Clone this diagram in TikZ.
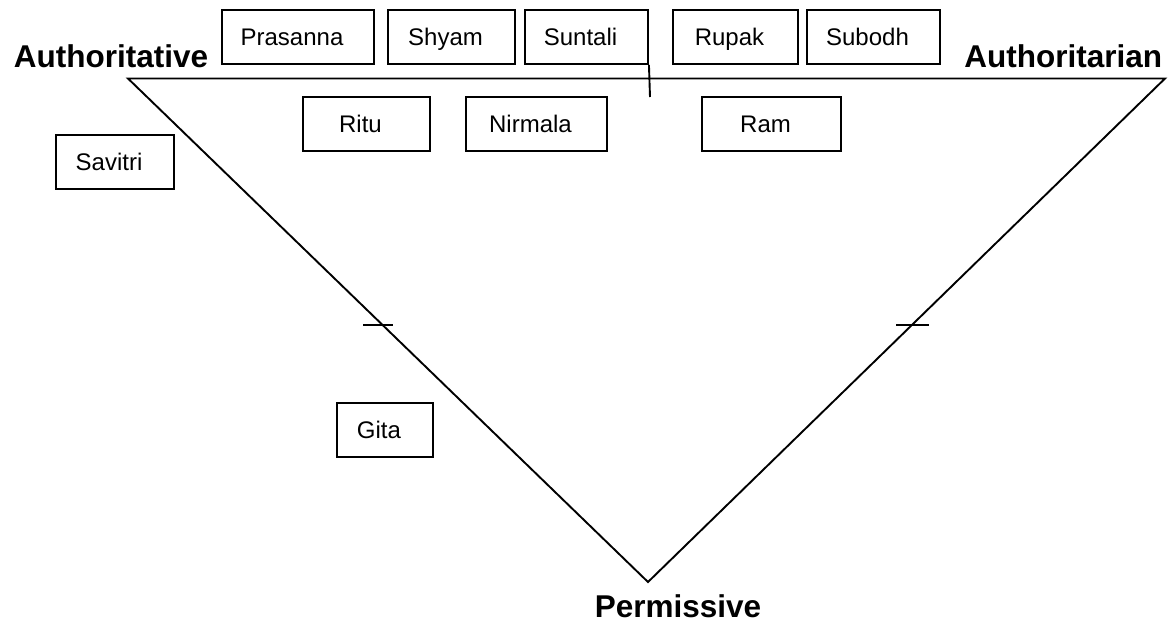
\documentclass[tikz,border=0pt]{standalone}
\usepackage{fontspec}
\setmainfont{Liberation Sans}
\begin{document}
\begin{tikzpicture}[x=1pt,y=1pt,
  line width=1.9pt,
  namebox/.style={draw, line width=1.9pt, minimum height=54pt, inner sep=0pt,
    text height=18pt, text depth=2pt, font=\fontsize{24}{28}\selectfont},
  pole/.style={font=\fontsize{31.5}{36}\selectfont\bfseries, inner sep=0pt}]
\useasboundingbox (0,0) rectangle (1170,-622);
\newcommand{\bxt}[1]{#1\kern12pt}
% triangle
\coordinate (tl) at (128,-78.5);
\coordinate (tr) at (1165,-78.5);
\coordinate (bt) at (648,-582);
\draw (tl) -- (tr) -- (bt) -- cycle;
% ticks
\coordinate (t1a) at (363,-325);
\coordinate (t1b) at (393,-325);
\coordinate (t2a) at (896,-325);
\coordinate (t2b) at (929,-325);
\draw (t1a) -- (t1b);
\draw (t2a) -- (t2b);
% poles
\node[pole, anchor=base west] (authv) at (13,-67.5) {Authoritative};
\node[pole, anchor=base east] (autht) at (1163,-67.5) {Authoritarian};
\node[pole, anchor=base] (perm) at (678,-617) {Permissive};
% top row boxes
\node[namebox, minimum width=152pt] (prasanna) at (298,-37) {\bxt{Prasanna}};
\node[namebox, minimum width=127pt] (shyam) at (451.5,-37) {\bxt{Shyam}};
\node[namebox, minimum width=123pt] (suntali) at (586.5,-37) {\bxt{Suntali}};
\node[namebox, minimum width=125pt] (rupak) at (735.5,-37) {\bxt{Rupak}};
\node[namebox, minimum width=133pt] (subodh) at (873.5,-37) {\bxt{Subodh}};
% second row
\node[namebox, minimum width=127pt] (ritu) at (366.5,-124) {\bxt{Ritu}};
\node[namebox, minimum width=141pt] (nirmala) at (536.5,-124) {\bxt{Nirmala}};
\node[namebox, minimum width=139pt] (ram) at (771.5,-124) {\bxt{Ram}};
% others
\node[namebox, minimum width=118pt] (savitri) at (115,-162) {\bxt{Savitri}};
\node[namebox, minimum width=96pt] (gita) at (385,-430) {\bxt{Gita}};
% Suntali connector
\coordinate (sunend) at (650,-97);
\draw (suntali.south east) -- (sunend);
\end{tikzpicture}
\end{document}
